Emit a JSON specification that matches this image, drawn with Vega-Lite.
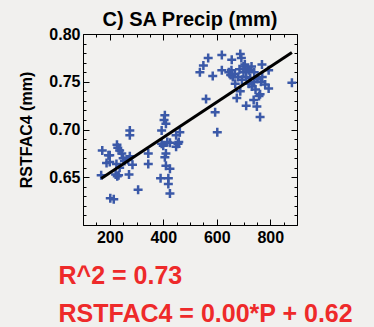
{
  "$schema": "https://vega.github.io/schema/vega-lite/v6.json",
  "width": 214,
  "height": 191,
  "autosize": {"type": "none"},
  "padding": {"left": 83, "top": 34, "right": 77, "bottom": 102},
  "background": "#f1f0ee",
  "config": {
    "view": {"stroke": "black", "strokeWidth": 1, "fill": "#f2f1ef"},
    "font": "Liberation Sans"
  },
  "title": {
    "text": "C) SA Precip (mm)",
    "fontSize": 20,
    "fontWeight": "bold",
    "font": "Liberation Sans",
    "color": "black",
    "anchor": "middle",
    "baseline": "bottom",
    "offset": 3,
    "dy": 27
  },
  "data": {
    "values": [
      {"x": 537, "y": 0.760}, {"x": 550, "y": 0.767}, {"x": 568, "y": 0.775}, {"x": 585, "y": 0.756},
      {"x": 619, "y": 0.778}, {"x": 619, "y": 0.762}, {"x": 656, "y": 0.773}, {"x": 688, "y": 0.779},
      {"x": 692, "y": 0.775}, {"x": 645, "y": 0.760}, {"x": 652, "y": 0.757}, {"x": 660, "y": 0.755},
      {"x": 668, "y": 0.758}, {"x": 655, "y": 0.762}, {"x": 685, "y": 0.763}, {"x": 700, "y": 0.766},
      {"x": 705, "y": 0.768}, {"x": 715, "y": 0.764}, {"x": 720, "y": 0.762}, {"x": 730, "y": 0.766},
      {"x": 740, "y": 0.760}, {"x": 700, "y": 0.760}, {"x": 769, "y": 0.768}, {"x": 794, "y": 0.762},
      {"x": 881, "y": 0.749}, {"x": 694, "y": 0.752}, {"x": 669, "y": 0.748}, {"x": 725, "y": 0.754},
      {"x": 740, "y": 0.750}, {"x": 752, "y": 0.753}, {"x": 765, "y": 0.750}, {"x": 770, "y": 0.755},
      {"x": 781, "y": 0.747}, {"x": 794, "y": 0.743}, {"x": 731, "y": 0.745}, {"x": 688, "y": 0.740},
      {"x": 675, "y": 0.733}, {"x": 762, "y": 0.737}, {"x": 758, "y": 0.735}, {"x": 738, "y": 0.731},
      {"x": 710, "y": 0.725}, {"x": 750, "y": 0.724}, {"x": 762, "y": 0.713}, {"x": 560, "y": 0.732},
      {"x": 594, "y": 0.718}, {"x": 602, "y": 0.697}, {"x": 710, "y": 0.755}, {"x": 720, "y": 0.748},
      {"x": 680, "y": 0.755}, {"x": 745, "y": 0.742},
      {"x": 275, "y": 0.699}, {"x": 275, "y": 0.694}, {"x": 406, "y": 0.715}, {"x": 403, "y": 0.710},
      {"x": 410, "y": 0.706}, {"x": 394, "y": 0.699}, {"x": 462, "y": 0.697}, {"x": 448, "y": 0.694},
      {"x": 425, "y": 0.686}, {"x": 448, "y": 0.682}, {"x": 455, "y": 0.685}, {"x": 458, "y": 0.687},
      {"x": 394, "y": 0.685}, {"x": 410, "y": 0.675}, {"x": 406, "y": 0.671}, {"x": 410, "y": 0.662},
      {"x": 425, "y": 0.659}, {"x": 390, "y": 0.649}, {"x": 419, "y": 0.649}, {"x": 419, "y": 0.643},
      {"x": 425, "y": 0.633}, {"x": 344, "y": 0.675}, {"x": 344, "y": 0.664}, {"x": 306, "y": 0.637},
      {"x": 400, "y": 0.683}, {"x": 415, "y": 0.687},
      {"x": 202, "y": 0.628}, {"x": 215, "y": 0.627}, {"x": 172, "y": 0.678}, {"x": 200, "y": 0.673},
      {"x": 227, "y": 0.684}, {"x": 230, "y": 0.681}, {"x": 237, "y": 0.678}, {"x": 245, "y": 0.675},
      {"x": 250, "y": 0.670}, {"x": 269, "y": 0.668}, {"x": 285, "y": 0.663}, {"x": 188, "y": 0.665},
      {"x": 200, "y": 0.666}, {"x": 225, "y": 0.664}, {"x": 237, "y": 0.660}, {"x": 168, "y": 0.652},
      {"x": 222, "y": 0.653}, {"x": 228, "y": 0.651}, {"x": 233, "y": 0.652}, {"x": 272, "y": 0.653},
      {"x": 255, "y": 0.667}, {"x": 275, "y": 0.672}, {"x": 195, "y": 0.673}
    ]
  },
  "resolve": {"axis": {"x": "independent", "y": "independent"}},
  "layer": [
    {
      "mark": {
        "type": "point",
        "shape": "M-1,0H1M0,-1V1",
        "filled": false,
        "stroke": "#3b59a8",
        "strokeWidth": 2.5,
        "size": 81,
        "opacity": 1
      },
      "encoding": {
        "x": {
          "field": "x", "type": "quantitative",
          "scale": {"domain": [100, 900], "nice": false, "zero": false},
          "axis": {
            "orient": "bottom",
            "values": [100, 150, 200, 250, 300, 350, 400, 450, 500, 550, 600, 650, 700, 750, 800, 850, 900],
            "labelExpr": "datum.value % 200 == 0 && datum.value > 100 && datum.value < 900 ? datum.value : ''",
            "tickSize": {"expr": "datum.value % 200 == 0 ? -6 : -3"},
            "tickColor": "black",
            "tickWidth": 1,
            "domain": false,
            "grid": false,
            "labelFont": "Liberation Sans",
            "labelFontSize": 16,
            "labelFontWeight": "bold",
            "labelColor": "black",
            "labelPadding": 10,
            "labelFlush": false,
            "labelOverlap": false,
            "title": ["R^2 = 0.73", "RSTFAC4 = 0.00*P + 0.62"],
            "titleFont": "Liberation Sans",
            "titleFontSize": 25,
            "titleFontWeight": "bold",
            "titleColor": "#ee2a2a",
            "titleAnchor": "start",
            "titleAlign": "left",
            "titleBaseline": "alphabetic",
            "titleLineHeight": 38,
            "titleX": -25,
            "titleY": 58
          }
        },
        "y": {
          "field": "y", "type": "quantitative",
          "scale": {"domain": [0.60, 0.80], "nice": false, "zero": false},
          "axis": {
            "orient": "left",
            "values": [0.60, 0.61, 0.62, 0.63, 0.64, 0.65, 0.66, 0.67, 0.68, 0.69, 0.70, 0.71, 0.72, 0.73, 0.74, 0.75, 0.76, 0.77, 0.78, 0.79, 0.80],
            "labelExpr": "round(datum.value*100) % 5 == 0 && round(datum.value*100) > 60 ? format(datum.value, '.2f') : ''",
            "tickSize": {"expr": "round(datum.value*100) % 5 == 0 ? -6 : -3"},
            "tickColor": "black",
            "domain": false,
            "grid": false,
            "labelFont": "Liberation Sans",
            "labelFontSize": 16,
            "labelFontWeight": "bold",
            "labelColor": "black",
            "labelPadding": 9,
            "labelFlush": false,
            "labelOverlap": false,
            "title": "RSTFAC4 (mm)",
            "titleFont": "Liberation Sans",
            "titleFontSize": 16,
            "titleFontWeight": "bold",
            "titleColor": "black",
            "titlePadding": 14
          }
        }
      }
    },
    {
      "transform": [{"regression": "y", "on": "x"}],
      "mark": {"type": "line", "color": "black", "strokeWidth": 3},
      "encoding": {
        "x": {
          "field": "x", "type": "quantitative",
          "axis": {
            "orient": "top",
            "values": [100, 150, 200, 250, 300, 350, 400, 450, 500, 550, 600, 650, 700, 750, 800, 850, 900],
            "labels": false,
            "tickSize": {"expr": "datum.value % 200 == 0 ? -6 : -3"},
            "tickColor": "black",
            "domain": false,
            "grid": false,
            "title": null
          }
        },
        "y": {
          "field": "y", "type": "quantitative",
          "axis": {
            "orient": "right",
            "values": [0.60, 0.61, 0.62, 0.63, 0.64, 0.65, 0.66, 0.67, 0.68, 0.69, 0.70, 0.71, 0.72, 0.73, 0.74, 0.75, 0.76, 0.77, 0.78, 0.79, 0.80],
            "labels": false,
            "tickSize": {"expr": "round(datum.value*100) % 5 == 0 ? -6 : -3"},
            "tickColor": "black",
            "domain": false,
            "grid": false,
            "title": null
          }
        }
      }
    }
  ]
}
